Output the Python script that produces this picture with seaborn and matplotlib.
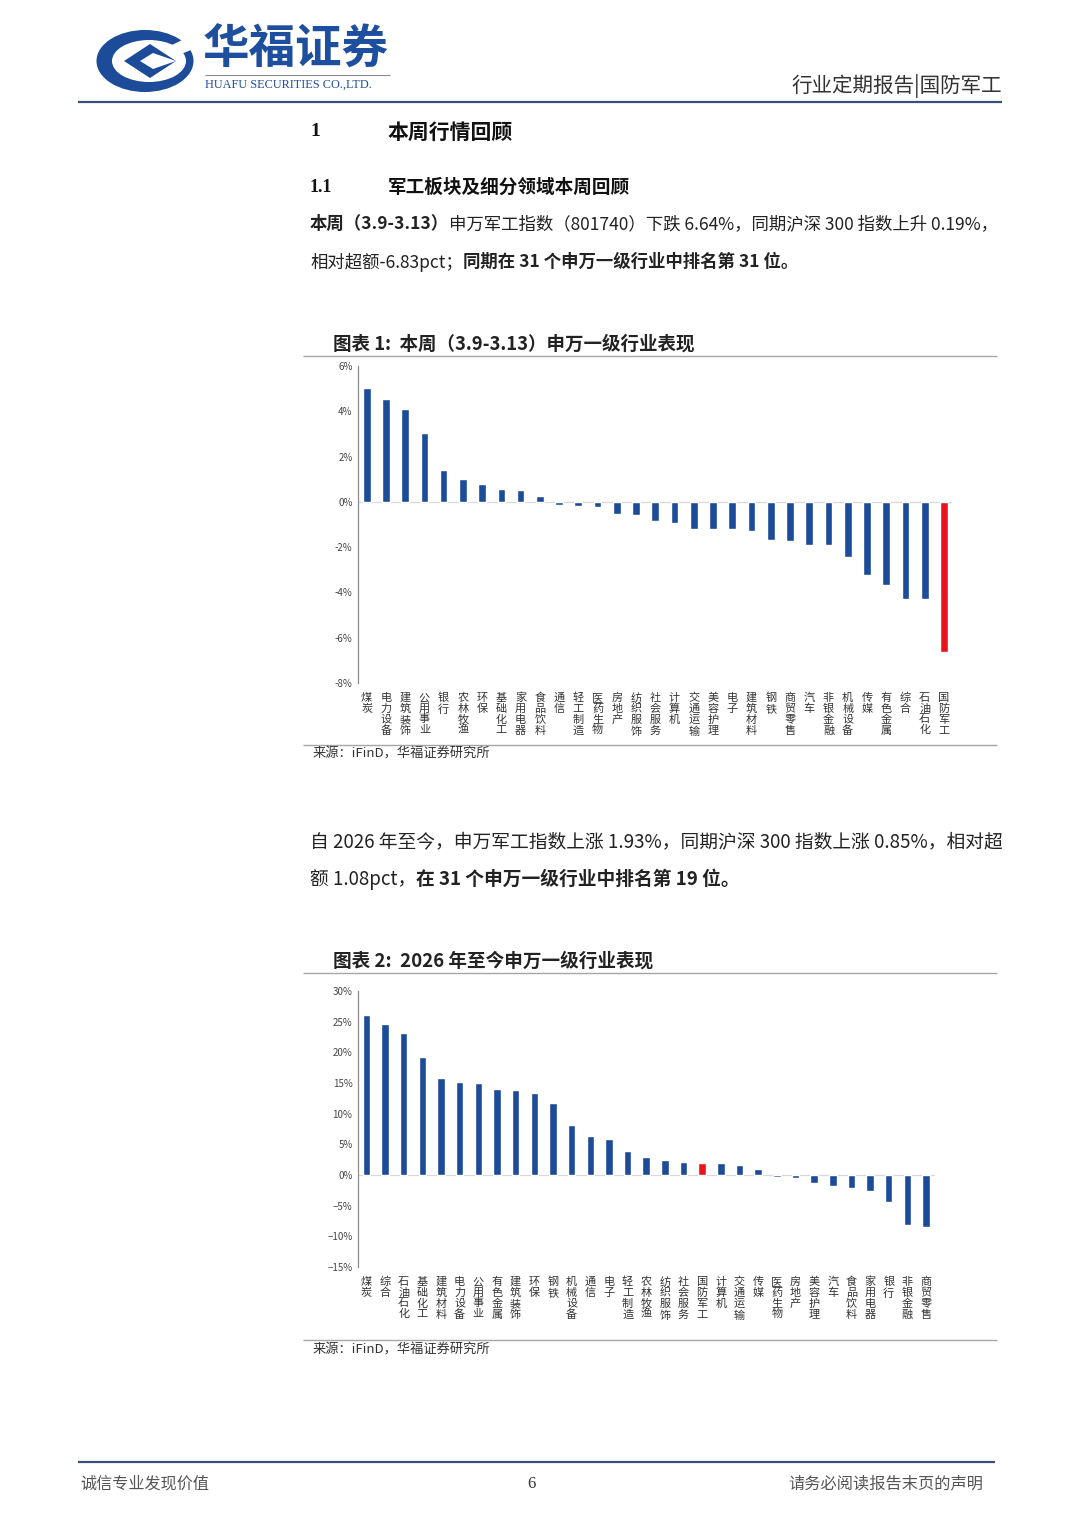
import matplotlib
matplotlib.use("Agg")
import matplotlib.pyplot as plt
from matplotlib.patches import Ellipse, Polygon
import numpy as np
import pandas as pd
import seaborn as sns

# ---------------- data ----------------
cats1 = ["煤炭", "电力设备", "建筑装饰", "公用事业", "银行", "农林牧渔", "环保", "基础化工",
         "家用电器", "食品饮料", "通信", "轻工制造", "医药生物", "房地产", "纺织服饰", "社会服务",
         "计算机", "交通运输", "美容护理", "电子", "建筑材料", "钢铁", "商贸零售", "汽车",
         "非银金融", "机械设备", "传媒", "有色金属", "综合", "石油石化", "国防军工"]
vals1 = [5.01, 4.53, 4.11, 3.06, 1.41, 1.03, 0.81, 0.56, 0.53, 0.28, -0.13, -0.18, -0.23,
         -0.54, -0.59, -0.84, -0.94, -1.22, -1.22, -1.22, -1.29, -1.67, -1.72, -1.92, -1.91,
         -2.45, -3.23, -3.68, -4.30, -4.30, -6.64]

cats2 = ["煤炭", "综合", "石油石化", "基础化工", "建筑材料", "电力设备", "公用事业", "有色金属",
         "建筑装饰", "环保", "钢铁", "机械设备", "通信", "电子", "轻工制造", "农林牧渔",
         "纺织服饰", "社会服务", "国防军工", "计算机", "交通运输", "传媒", "医药生物", "房地产",
         "美容护理", "汽车", "食品饮料", "家用电器", "银行", "非银金融", "商贸零售"]
vals2 = [26.1, 24.7, 23.2, 19.2, 15.8, 15.2, 15.0, 14.0, 13.9, 13.4, 11.7, 8.2, 6.3, 5.9,
         3.85, 2.87, 2.39, 2.11, 1.93, 2.0, 1.57, 0.98, -0.3, -0.5, -1.25, -1.84, -2.1, -2.55,
         -4.4, -8.1, -8.4]

yticks1 = [-8, -6, -4, -2, 0, 2, 4, 6]
yticks2 = [-15, -10, -5, 0, 5, 10, 15, 20, 25, 30]

BLUE = "#1c4c99"
RED = "#e8141b"
HIGHLIGHT = "国防军工"

# ---------------- style ----------------
sns.set_style("white")
plt.rcParams["font.family"] = ["Noto Sans CJK SC", "DejaVu Sans"]
plt.rcParams["axes.unicode_minus"] = True

W, H = 1080, 1527
fig = plt.figure(figsize=(W / 100, H / 100), dpi=100)

# overlay axes in pixel coordinates
ov = fig.add_axes([0, 0, 1, 1])
ov.set_xlim(0, W)
ov.set_ylim(H, 0)
ov.axis("off")
ov.patch.set_alpha(0)

renderer = fig.canvas.get_renderer()


def line(x0, x1, y, color="#999999", lw=1.0):
    ov.plot([x0, x1], [y, y], color=color, lw=lw, solid_capstyle="butt")


def segs(x, y, parts, size, color="#222222"):
    """Draw sequential text segments (text, bold) starting at x; returns end x."""
    cur = x
    for txt, bold in parts:
        t = ov.text(cur, y, txt, fontsize=size, fontweight="bold" if bold else "normal",
                    va="center", ha="left", color=color)
        bb = t.get_window_extent(renderer=renderer)
        cur += bb.width
    return cur


def measure(parts, size):
    tot = 0
    for txt, bold in parts:
        t = ov.text(0, 0, txt, fontsize=size, fontweight="bold" if bold else "normal")
        tot += t.get_window_extent(renderer=renderer).width
        t.remove()
    return tot


# ---------------- header ----------------
ov.add_patch(Ellipse((145, 61), 97, 62, facecolor=BLUE, edgecolor="none"))
ov.add_patch(Ellipse((149, 61), 74, 42, facecolor="white", edgecolor="none"))
ov.add_patch(Polygon([[186, 38], [196, 48], [176, 56], [170, 46]], closed=True,
                     facecolor="white", edgecolor="none"))
ov.add_patch(Polygon([[124, 61], [150, 44], [176, 61], [150, 78]], closed=True,
                     facecolor=BLUE, edgecolor="none"))
ov.add_patch(Polygon([[140, 61], [153, 53], [176, 61], [153, 69]], closed=True,
                     facecolor="white", edgecolor="none"))

ov.text(203, 50, "华福证券", fontsize=33.5, fontweight="bold", color="#1e4f9e",
        va="center", ha="left")
line(205, 390, 75, color="#8c8c8c", lw=0.8)
ov.text(205, 85, "HUAFU SECURITIES CO.,LTD.", fontsize=8.8, color="#1e4f9e",
        family="Liberation Serif", va="center", ha="left")
ov.text(1002, 86, "行业定期报告|国防军工", fontsize=14.8, color="#333333",
        va="center", ha="right")
line(78, 1002, 102, color="#3a4f78", lw=1.6)

# ---------------- section headings ----------------
ov.text(310, 132, "1", fontsize=14, fontweight="bold", color="#111111", va="center",
        family="Liberation Serif")
ov.text(388, 132, "本周行情回顾", fontsize=15, fontweight="bold", color="#111111", va="center")
ov.text(310, 187, "1.1", fontsize=13, fontweight="bold", color="#111111", va="center",
        family="Liberation Serif")
ov.text(388, 187, "军工板块及细分领域本周回顾", fontsize=13.4, fontweight="bold",
        color="#111111", va="center")

# paragraph 1
p1a = [("本周（3.9-3.13）", True),
       ("申万军工指数（801740）下跌 6.64%，同期沪深 300 指数上升 0.19%，", False)]
p1b = [("相对超额-6.83pct；", False), ("同期在 31 个申万一级行业中排名第 31 位。", True)]
base = 12.0
psize = base * (1000 - 310) / measure(p1a, base)
segs(310, 224, p1a, psize)
segs(310, 262, p1b, psize)

# chart 1 titles
segs(333, 344, [("图表 1:  本周（3.9-3.13）申万一级行业表现", True)], 13.3)
line(303, 997, 356, color="#a6a6a6", lw=1.0)
line(303, 997, 745, color="#a6a6a6", lw=1.0)
ov.text(313, 754, "来源：iFinD，华福证券研究所", fontsize=9.5, color="#333333", va="center")

# paragraph 2
p2a = [("自 2026 年至今，申万军工指数上涨 1.93%，同期沪深 300 指数上涨 0.85%，相对超", False)]
p2b = [("额 1.08pct，", False), ("在 31 个申万一级行业中排名第 19 位。", True)]
psize2 = base * (1002 - 310) / measure(p2a, base)
segs(310, 842, p2a, psize2)
segs(310, 879, p2b, psize2)

# chart 2 titles
segs(333, 961, [("图表 2:  2026 年至今申万一级行业表现", True)], 13.4)
line(303, 997, 973, color="#a6a6a6", lw=1.0)
line(303, 997, 1340, color="#a6a6a6", lw=1.0)
ov.text(313, 1350, "来源：iFinD，华福证券研究所", fontsize=9.5, color="#333333", va="center")

# footer
line(78, 995, 1462, color="#3a4f78", lw=1.6)
ov.text(80, 1484, "诚信专业发现价值", fontsize=11.6, color="#555555", va="center")
ov.text(531, 1484, "6", fontsize=12, color="#333333", va="center", ha="center",
        family="Liberation Serif")
ov.text(983, 1484, "请务必阅读报告末页的声明", fontsize=11.7, color="#555555", va="center",
        ha="right")


# ---------------- charts ----------------
def bar_chart(rect, cats, vals, ylim, yticks, xlim, minus):
    ax = fig.add_axes(rect)
    df = pd.DataFrame({"industry": cats, "ret": vals})
    pal = {c: (RED if c == HIGHLIGHT else BLUE) for c in cats}
    ax.axhline(0, color="#d9d9d9", lw=0.9, zorder=0)
    sns.barplot(data=df, x="industry", y="ret", hue="industry", palette=pal, order=cats,
                hue_order=cats, width=0.4, saturation=1, legend=False, ax=ax, zorder=2)
    ax.set_xlim(*xlim)
    ax.set_ylim(*ylim)
    ax.set_yticks(yticks)
    ax.set_yticklabels([(f"{v}%".replace("-", "−") if minus else f"{v}%") for v in yticks],
                       fontsize=7, color="#444444")
    ax.set_xticks(range(len(cats)))
    ax.set_xticklabels(["\n".join(c) for c in cats], fontsize=8, color="#333333",
                       linespacing=1.1)
    ax.set_xlabel("")
    ax.set_ylabel("")
    for s in ["top", "right", "bottom"]:
        ax.spines[s].set_visible(False)
    ax.spines["left"].set_color("#8c8c8c")
    ax.spines["left"].set_linewidth(0.9)
    ax.tick_params(axis="y", direction="in", length=3, width=0.8, color="#8c8c8c", pad=4)
    ax.tick_params(axis="x", length=0, pad=7)
    ax.patch.set_alpha(0)
    return ax


bar_chart([358 / W, 1 - 683 / H, (952 - 358) / W, (683 - 366) / H],
          cats1, vals1, (-8, 6), yticks1, (-0.45, 30.42), minus=False)
bar_chart([358 / W, 1 - 1267 / H, (935 - 358) / W, (1267 - 991) / H],
          cats2, vals2, (-15, 30), yticks2, (-0.45, 30.48), minus=True)

fig.savefig("out.png", dpi=100, facecolor="white")
